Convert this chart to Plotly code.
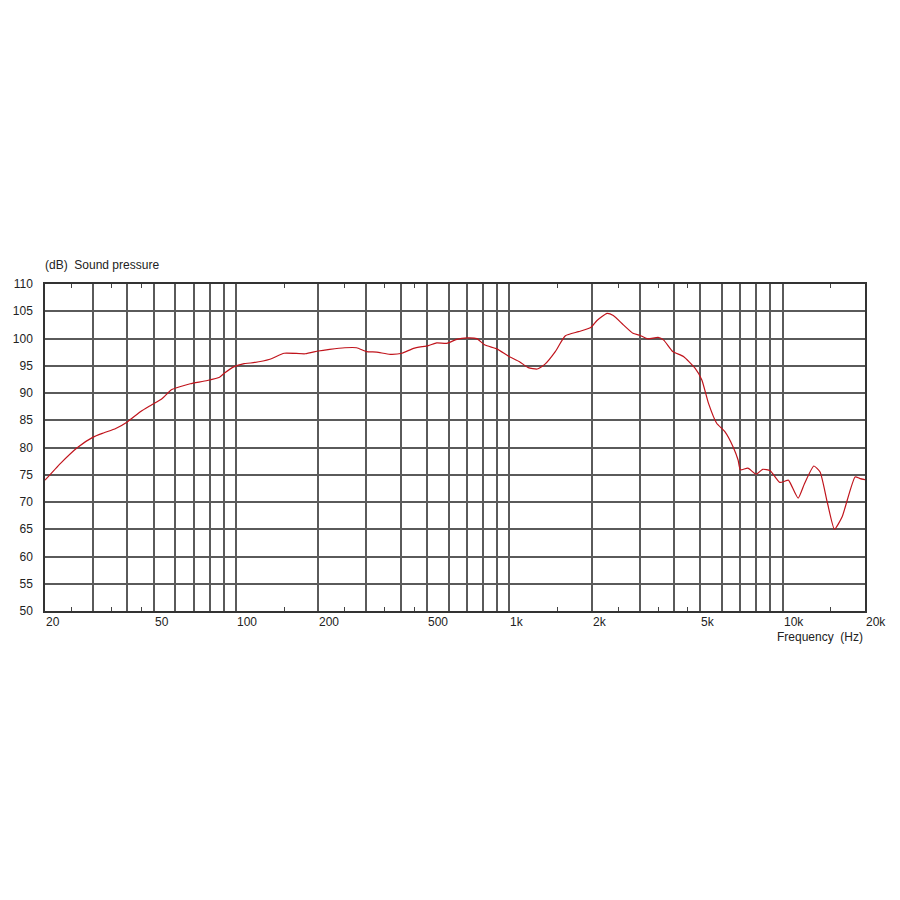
import math
import plotly.graph_objects as go

# ---- data ----
freq_hz = [20, 22.8, 26.3, 30, 32.9, 36.3, 40, 44.8, 49, 53.7, 58, 62.7, 68, 78.5, 87, 91, 98,
           107, 113, 133, 150, 179, 200, 220, 250, 276, 300, 327, 366, 405, 446, 505, 542, 590,
           642, 700, 760, 814, 900, 990, 1092, 1172, 1264, 1350, 1472, 1603, 1790, 1985, 2092,
           2277, 2400, 2612, 2832, 3000, 3210, 3500, 3670, 3960, 4333, 4777, 5060, 5352, 5733,
           6142, 6580, 6866, 7000, 7456, 8000, 8444, 9000, 9760, 10500, 10750, 11390, 12020,
           13000, 13700, 14550, 15460, 16500, 18400, 19200, 20000]
spl_db = [74.0, 77.1, 80.0, 81.9, 82.7, 83.5, 84.7, 86.6, 87.8, 89.0, 90.6, 91.2, 91.7, 92.3, 92.9,
          93.7, 94.8, 95.4, 95.5, 96.2, 97.3, 97.2, 97.7, 98.0, 98.3, 98.3, 97.6, 97.5, 97.1, 97.3,
          98.2, 98.7, 99.2, 99.1, 99.85, 100.1, 99.97, 98.8, 98.1, 96.8, 95.7, 94.65, 94.4, 95.3,
          97.6, 100.5, 101.25, 102.0, 103.3, 104.6, 104.2, 102.5, 100.95, 100.6, 99.95, 100.2,
          99.7, 97.6, 96.7, 94.55, 92.4, 88.1, 84.45, 82.9, 80.15, 77.7, 75.9, 76.2, 75.1, 76.0,
          75.75, 73.6, 74.0, 73.1, 70.7, 73.4, 76.6, 75.5, 70.0, 65.0, 67.3, 74.6, 74.3, 74.1]

grid_freqs = [30, 40, 50, 60, 70, 80, 90, 100, 200, 300, 400, 500, 600, 700, 800, 900, 1000,
              2000, 3000, 4000, 5000, 6000, 7000, 8000, 9000, 10000]
minor_tick_freqs = [25, 35, 45, 150, 250, 350, 450, 1500, 2500, 3500, 4500, 15000]
x_label_vals = [20, 50, 100, 200, 500, 1000, 2000, 5000, 10000, 20000]
x_label_text = ["20", "50", "100", "200", "500", "1k", "2k", "5k", "10k", "20k"]
y_ticks = list(range(50, 111, 5))

FONT = "Liberation Sans, Arial, sans-serif"
TXT = "#222222"
GRID = "#5a5a5a"

fig = go.Figure()
fig.add_trace(go.Scatter(
    x=freq_hz, y=spl_db, mode="lines",
    line=dict(color="#c0141c", width=1.2, shape="spline", smoothing=0.5),
    hoverinfo="skip", showlegend=False,
))

fig.update_layout(
    width=900, height=900,
    paper_bgcolor="white", plot_bgcolor="white",
    margin=dict(l=37, r=43, t=276, b=297),
    font=dict(family=FONT, size=12, color=TXT),
    xaxis=dict(
        type="log", range=[math.log10(20), math.log10(20000)], automargin=False,
        tickmode="array", tickvals=minor_tick_freqs,
        ticks="inside", ticklen=4, tickwidth=1, tickcolor="#444",
        showticklabels=False, showgrid=False, zeroline=False,
        showline=True, linecolor="#333", linewidth=1.5, mirror="allticks",
        minor=dict(tickmode="array", tickvals=grid_freqs, showgrid=True,
                   gridcolor=GRID, gridwidth=1.5, ticks=""),
    ),
    yaxis=dict(
        range=[50, 110], tickmode="array", tickvals=y_ticks, automargin=False,
        ticks="", showgrid=True, gridcolor=GRID, gridwidth=1.5, zeroline=False,
        showline=True, linecolor="#333", linewidth=1.5, mirror=True,
        tickfont=dict(family=FONT, size=12, color=TXT), ticklabelstandoff=8,
    ),
)

annotations = []
for v, t in zip(x_label_vals, x_label_text):
    annotations.append(dict(
        x=math.log10(v), xref="x", y=0, yref="paper", text=t, showarrow=False,
        xanchor="left", yanchor="middle", yshift=-11, xshift=-1,
        font=dict(family=FONT, size=12, color=TXT),
    ))
annotations.append(dict(
    x=0, xref="paper", y=1, yref="paper", text="(dB)&nbsp; Sound pressure", showarrow=False,
    xanchor="left", yanchor="middle", yshift=19, xshift=-2,
    font=dict(family=FONT, size=12, color=TXT),
))
annotations.append(dict(
    x=1, xref="paper", y=0, yref="paper", text="Frequency&nbsp; (Hz)", showarrow=False,
    xanchor="right", yanchor="middle", yshift=-26, xshift=0,
    font=dict(family=FONT, size=12, color=TXT),
))
fig.update_layout(annotations=annotations)

fig.write_html("out.html")
